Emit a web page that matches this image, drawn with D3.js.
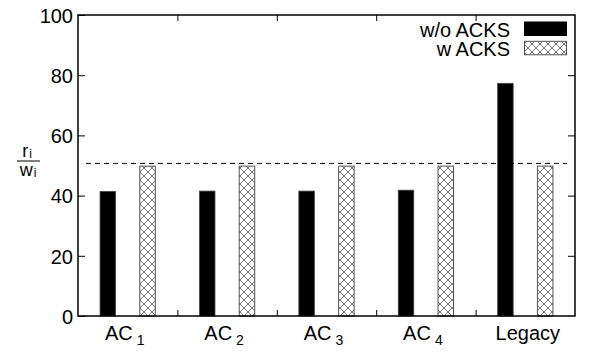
<!DOCTYPE html>
<html>
<head>
<meta charset="utf-8">
<script src="https://cdn.jsdelivr.net/npm/d3@7"></script>
<style>
  body { margin: 0; background: #fff; }
  text { font-family: "Liberation Sans", Arial, sans-serif; fill: #000; }
</style>
</head>
<body>
<svg id="chart" width="590" height="359"></svg>
<script>
// data
const categories = ["AC", "AC", "AC", "AC", "Legacy"];
const categorySubs = ["1", "2", "3", "4", ""];
const withoutAcks = [41.4, 41.5, 41.5, 41.8, 77.3];
const withAcks = [49.8, 49.8, 49.8, 49.8, 49.8];
const fairLine = 50.7;
const yTicks = [0, 20, 40, 60, 80, 100];

const svg = d3.select('#chart');
const plotL = 78, plotR = 575, plotT = 15, plotB = 316;

let x = d3.scaleLinear().domain([-0.5, categories.length - 0.5]).range([plotL, plotR]);
let y = d3.scaleLinear().domain([0, 100]).range([plotB, plotT]);
const barW = x(0.156) - x(0);

// crosshatch pattern
const defs = svg.append('defs');
const pat = defs.append('pattern')
  .attr('id', 'hatch')
  .attr('patternUnits', 'userSpaceOnUse')
  .attr('width', 8).attr('height', 8);
pat.append('rect').attr('width', 8).attr('height', 8).attr('fill', '#fff');
pat.append('path')
  .attr('d', 'M0,0 L8,8 M8,0 L0,8 M-1,7 L1,9 M7,-1 L9,1 M-1,1 L1,-1 M7,9 L9,7')
  .attr('stroke', '#777').attr('stroke-width', 1).attr('fill', 'none');

// bars
svg.selectAll('rect.wo')
  .data(withoutAcks)
  .join('rect')
  .attr('class', 'wo')
  .attr('x', (d, i) => x(i - 0.2) - barW / 2)
  .attr('y', d => y(d))
  .attr('width', barW)
  .attr('height', d => y(0) - y(d))
  .attr('fill', '#000')
  .attr('stroke', '#444')
  .attr('stroke-width', 0.8);

svg.selectAll('rect.w')
  .data(withAcks)
  .join('rect')
  .attr('class', 'w')
  .attr('x', (d, i) => x(i + 0.2) - barW / 2)
  .attr('y', d => y(d))
  .attr('width', barW)
  .attr('height', d => y(0) - y(d))
  .attr('fill', 'url(#hatch)')
  .attr('stroke', '#555')
  .attr('stroke-width', 1);

// dashed reference line
svg.append('line')
  .attr('x1', plotL + 8).attr('x2', plotR - 8)
  .attr('y1', y(fairLine)).attr('y2', y(fairLine))
  .attr('stroke', '#000')
  .attr('stroke-width', 1)
  .attr('stroke-dasharray', '5,4');

// axes: ticks inward, mirrored
const yAxisL = d3.axisLeft(y).tickValues(yTicks).tickSizeInner(-7).tickSizeOuter(0).tickPadding(5);
const yAxisR = d3.axisRight(y).tickValues(yTicks.slice(1, -1)).tickSizeInner(-7).tickSizeOuter(0).tickFormat('');
const bounds = d3.range(0.5, categories.length - 1, 1);
const xAxisB = d3.axisBottom(x).tickValues(bounds).tickSizeInner(-6).tickSizeOuter(0).tickFormat('');
const xAxisT = d3.axisTop(x).tickValues(bounds).tickSizeInner(-6).tickSizeOuter(0).tickFormat('');

const gL = svg.append('g').attr('transform', `translate(${plotL},0)`).call(yAxisL);
svg.append('g').attr('transform', `translate(${plotR},0)`).call(yAxisR);
svg.append('g').attr('transform', `translate(0,${plotB})`).call(xAxisB);
svg.append('g').attr('transform', `translate(0,${plotT})`).call(xAxisT);

svg.selectAll('.domain').remove();
svg.selectAll('.tick line').attr('stroke', '#000').attr('stroke-width', 1);
gL.selectAll('.tick text')
  .style('font-size', '20px')
  .attr('font-family', '"Liberation Sans", Arial, sans-serif')
  .attr('fill', '#000')
  .attr('dy', '0.36em');

// frame
svg.append('rect')
  .attr('x', plotL).attr('y', plotT)
  .attr('width', plotR - plotL).attr('height', plotB - plotT)
  .attr('fill', 'none')
  .attr('stroke', '#000')
  .attr('stroke-width', 1.5);

// category labels
const labels = svg.selectAll('text.cat')
  .data(categories)
  .join('text')
  .attr('class', 'cat')
  .attr('x', (d, i) => x(i) + (categorySubs[i] ? -3 : 2.5))
  .attr('y', 340)
  .attr('text-anchor', 'middle')
  .style('font-size', '20px');
labels.append('tspan').text(d => d);
labels.append('tspan')
  .attr('dx', 4)
  .attr('dy', 5)
  .style('font-size', '14px')
  .text((d, i) => categorySubs[i]);

// y label as fraction r_i / w_i
const fr = svg.append('g').attr('transform', 'translate(28,0)');
const num = fr.append('text').attr('x', -1).attr('y', 157).attr('text-anchor', 'middle').style('font-size', '18px');
num.append('tspan').text('r');
num.append('tspan').attr('dx', 1).attr('dy', 1).style('font-size', '12px').text('i');
fr.append('line').attr('x1', -11).attr('x2', 12).attr('y1', 161).attr('y2', 161).attr('stroke', '#000').attr('stroke-width', 1);
const den = fr.append('text').attr('x', 0).attr('y', 176).attr('text-anchor', 'middle').style('font-size', '18px');
den.append('tspan').text('w');
den.append('tspan').attr('dx', 1).attr('dy', 1).style('font-size', '12px').text('i');

// legend
const legendNames = ["w/o ACKS", "w ACKS"];
const legendFills = ['#000', 'url(#hatch)'];
legendNames.forEach((name, i) => {
  const yy = 22 + i * 19.3;
  svg.append('text')
    .attr('x', 510).attr('y', yy + 15)
    .attr('text-anchor', 'end')
    .style('font-size', '20px')
    .text(name);
  svg.append('rect')
    .attr('x', 524.5).attr('y', yy)
    .attr('width', 42).attr('height', 13.5)
    .attr('fill', legendFills[i])
    .attr('stroke', i ? '#555' : '#000')
    .attr('stroke-width', 1);
});
</script>
</body>
</html>
